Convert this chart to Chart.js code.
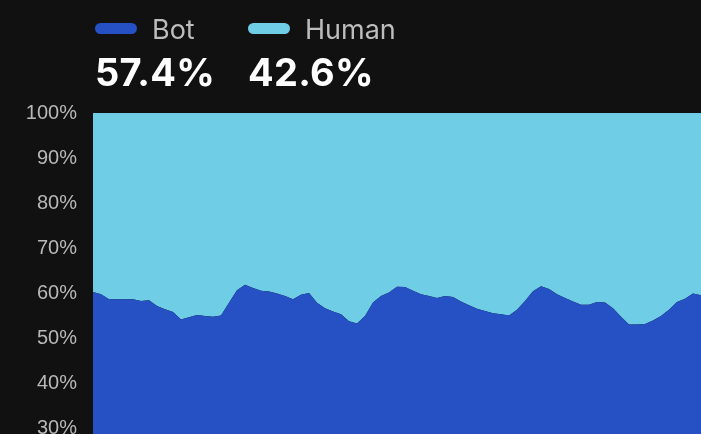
<!DOCTYPE html>
<html>
<head>
<meta charset="utf-8">
<script src="https://cdn.jsdelivr.net/npm/chart.js@4/dist/chart.umd.min.js"></script>
<style>
	html, body { margin: 0; padding: 0; background: #111111; overflow: hidden; width: 701px; height: 434px; }
	#wrap { position: relative; width: 701px; height: 434px; overflow: hidden; }
	#myChart { position: absolute; left: 0; top: 0; }
	.legendItem { position: absolute; font-family: Inter, 'Noto Sans', sans-serif; }
	.legendColor { position: absolute; top: 23px; width: 42px; height: 11px; border-radius: 6px; }
	.legendLabel { position: absolute; top: 13px; font-size: 27px; color: #bdbdbd; font-weight: 400; white-space: nowrap; }
	.legendValue { position: absolute; top: 49px; font-size: 38px; color: #ffffff; font-weight: 700; white-space: nowrap; letter-spacing: 0.3px; }
</style>
</head>
<body>
<div id="wrap">
	<canvas id="myChart" width="701" height="600"></canvas>
	<div id="legend"></div>
</div>
<script>
// share of traffic per period, in percent
var botShare = [
	60.3, 59.8, 58.7, 58.7, 58.7, 58.7, 58.3, 58.5, 57.2, 56.5,
	55.9, 54.2, 54.7, 55.2, 55.0, 54.8, 55.1, 57.9, 60.7, 61.9,
	61.2, 60.6, 60.4, 60.0, 59.4, 58.7, 59.7, 60.1, 57.9, 56.7,
	56.0, 55.4, 53.8, 53.3, 55.0, 58.0, 59.4, 60.2, 61.5, 61.4,
	60.6, 59.8, 59.4, 59.0, 59.4, 59.2, 58.2, 57.4, 56.6, 56.1,
	55.6, 55.4, 55.1, 56.4, 58.3, 60.5, 61.6, 61.0, 59.8, 59.0,
	58.2, 57.5, 57.5, 58.1, 58.0, 56.7, 54.8, 53.1, 53.1, 53.2,
	54.0, 55.0, 56.4, 58.1, 58.8, 60.0, 59.6
];
var humanShare = [
	39.7, 40.2, 41.3, 41.3, 41.3, 41.3, 41.7, 41.5, 42.8, 43.5,
	44.1, 45.8, 45.3, 44.8, 45.0, 45.2, 44.9, 42.1, 39.3, 38.1,
	38.8, 39.4, 39.6, 40.0, 40.6, 41.3, 40.3, 39.9, 42.1, 43.3,
	44.0, 44.6, 46.2, 46.7, 45.0, 42.0, 40.6, 39.8, 38.5, 38.6,
	39.4, 40.2, 40.6, 41.0, 40.6, 40.8, 41.8, 42.6, 43.4, 43.9,
	44.4, 44.6, 44.9, 43.6, 41.7, 39.5, 38.4, 39.0, 40.2, 41.0,
	41.8, 42.5, 42.5, 41.9, 42.0, 43.3, 45.2, 46.9, 46.9, 46.8,
	46.0, 45.0, 43.6, 41.9, 41.2, 40.0, 40.4
];
var periods = botShare.map(function(v, i) { return 'P' + (i + 1); });

var seriesNames = ['Bot', 'Human'];
var seriesTotals = [57.4, 42.6];
var seriesColors = ['#2551c4', '#6fcde6'];
var yTicks = [0, 10, 20, 30, 40, 50, 60, 70, 80, 90, 100];

// legend above the chart
var legendLeft = [95, 248];
var legendHtml = '';
for (var i = 0; i < seriesNames.length; i++) {
	legendHtml += '<div class="legendItem" style="left:' + legendLeft[i] + 'px">' +
		'<span class="legendColor" style="left:0;background-color:' + seriesColors[i] + '"></span>' +
		'<span class="legendLabel" style="left:57px">' + seriesNames[i] + '</span>' +
		'<span class="legendValue" style="left:0">' + seriesTotals[i].toFixed(1) + '%</span>' +
		'</div>';
}
document.getElementById('legend').innerHTML = legendHtml;

var ctx = document.getElementById('myChart').getContext('2d');
new Chart(ctx, {
	type: 'line',
	data: {
		labels: periods,
		datasets: [
			{ label: seriesNames[0], data: botShare, backgroundColor: seriesColors[0], borderColor: seriesColors[0], borderWidth: 0, pointRadius: 0, fill: 'origin', tension: 0 },
			{ label: seriesNames[1], data: humanShare, backgroundColor: seriesColors[1], borderColor: seriesColors[1], borderWidth: 0, pointRadius: 0, fill: '-1', tension: 0 }
		]
	},
	options: {
		responsive: false,
		animation: false,
		layout: { padding: { top: 113, bottom: 36, left: 0, right: 0 } },
		plugins: { legend: { display: false }, tooltip: { enabled: false } },
		scales: {
			x: { display: false, offset: false },
			y: {
				stacked: true,
				min: 0,
				max: 100,
				afterFit: function(scale) { scale.width = 93; },
				afterBuildTicks: function(scale) { scale.ticks = yTicks.map(function(v) { return { value: v }; }); },
				grid: { display: false, drawTicks: false },
				border: { display: false },
				ticks: {
					padding: 16,
					color: '#b8b8b8',
					font: { family: '"Liberation Sans", Arial, sans-serif', size: 20 },
					callback: function(v) { return v + '%'; }
				}
			}
		}
	}
});
</script>
</body>
</html>
